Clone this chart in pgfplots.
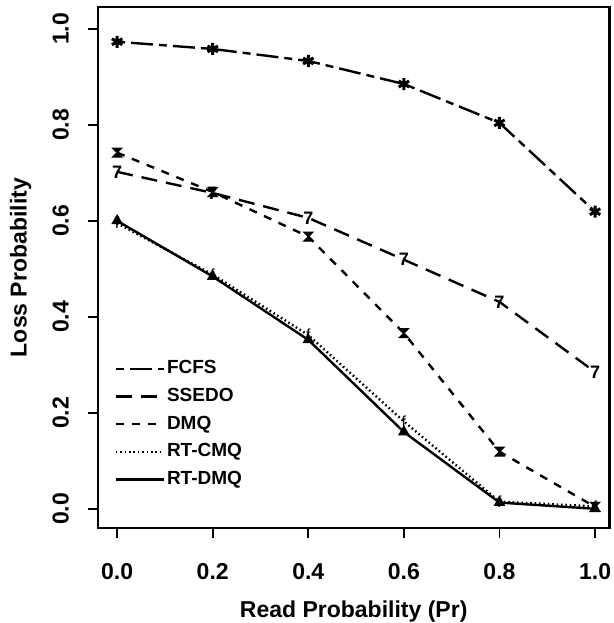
\documentclass[border=0pt]{standalone}
\usepackage{pgfplots}
\pgfplotsset{compat=1.18}
\usepackage{fontspec}
\setmainfont{Liberation Sans}
\pgfdeclareplotmark{hourglass}{%
  \pgfpathmoveto{\pgfqpoint{-\pgfplotmarksize}{\pgfplotmarksize}}%
  \pgfpathlineto{\pgfqpoint{\pgfplotmarksize}{\pgfplotmarksize}}%
  \pgfpathlineto{\pgfqpoint{-\pgfplotmarksize}{-\pgfplotmarksize}}%
  \pgfpathlineto{\pgfqpoint{\pgfplotmarksize}{-\pgfplotmarksize}}%
  \pgfpathclose\pgfusepathqfillstroke}
\begin{document}
\begin{tikzpicture}
\begin{axis}[
  scale only axis,
  width=255.7pt, height=260.4pt,
  xmin=-0.04, xmax=1.03, ymin=-0.04, ymax=1.045,
  axis line style={line width=1.2pt, draw=black},
  xtick={0,0.2,0.4,0.6,0.8,1.0},
  ytick={0,0.2,0.4,0.6,0.8,1.0},
  tick align=outside,
  major tick length=5pt,
  tick style={line width=0.9pt, black},
  xtick pos=bottom, ytick pos=left,
  /pgf/number format/assume math mode=true,
  /pgf/number format/.cd, fixed, fixed zerofill, precision=1, /pgfplots/.cd,
  ticklabel style={font=\bfseries\fontsize{11.5}{12}\selectfont},
  xticklabel style={anchor=north, yshift=-9pt},
  yticklabel style={rotate=90, anchor=south, yshift=6pt},
  xlabel={Read Probability (Pr)},
  ylabel={Loss Probability},
  label style={font=\bfseries\fontsize{11.5}{12}\selectfont},
  xlabel style={at={(axis description cs:0.5,-0.16)}, anchor=center},
  ylabel style={at={(axis description cs:-0.151,0.5)}, anchor=center, rotate=0},
  legend style={draw=none, fill=none, at={(0.02,0.335)}, anchor=north west,
    font=\bfseries\fontsize{9.5}{10}\selectfont, row sep=2.8pt,
    nodes={inner sep=1pt, text height=7pt, text depth=2pt}},
  legend cell align=left,
  legend image code/.code={\draw[#1] (0pt,0pt) -- (24pt,0pt);},
  every axis plot/.append style={line width=1.2pt, black},
]
\addplot[dash pattern=on 4pt off 3pt on 11pt off 3pt, mark=asterisk, mark size=3pt, mark options={solid, line width=1.5pt}]
  coordinates {(0,0.973) (0.2,0.958) (0.4,0.933) (0.6,0.885) (0.8,0.804) (1.0,0.619)};
\addlegendentry{FCFS}
\addplot[dash pattern=on 8pt off 4.5pt, mark=text, text mark={\fontsize{9}{9}\selectfont\bfseries 7}, mark options={solid}]
  coordinates {(0,0.702) (0.2,0.658) (0.4,0.606) (0.6,0.519) (0.8,0.431) (1.0,0.285)};
\addlegendentry{SSEDO}
\addplot[dash pattern=on 4pt off 4pt, mark=hourglass, mark size=2.2pt, mark options={solid, line width=0.6pt}]
  coordinates {(0,0.742) (0.2,0.660) (0.4,0.567) (0.6,0.366) (0.8,0.119) (1.0,0.004)};
\addlegendentry{DMQ}
\addplot[dash pattern=on 0.8pt off 1.4pt, mark=text, text mark={\fontsize{8}{8}\selectfont f}, mark options={solid}]
  coordinates {(0,0.595) (0.2,0.488) (0.4,0.362) (0.6,0.182) (0.8,0.015) (1.0,0.005)};
\addlegendentry{RT-CMQ}
\addplot[solid, mark=triangle*, mark size=2.2pt, mark options={solid}]
  coordinates {(0,0.600) (0.2,0.484) (0.4,0.352) (0.6,0.160) (0.8,0.013) (1.0,0.000)};
\addlegendentry{RT-DMQ}
\end{axis}
\draw[line width=1.2pt, draw=black] (current axis.south west) rectangle (current axis.north east);
\pgfresetboundingbox
\path[use as bounding box] ([shift={(-49pt,-47.5pt)}]current axis.south west) rectangle ([shift={(258pt,264pt)}]current axis.south west);
\end{tikzpicture}
\end{document}
